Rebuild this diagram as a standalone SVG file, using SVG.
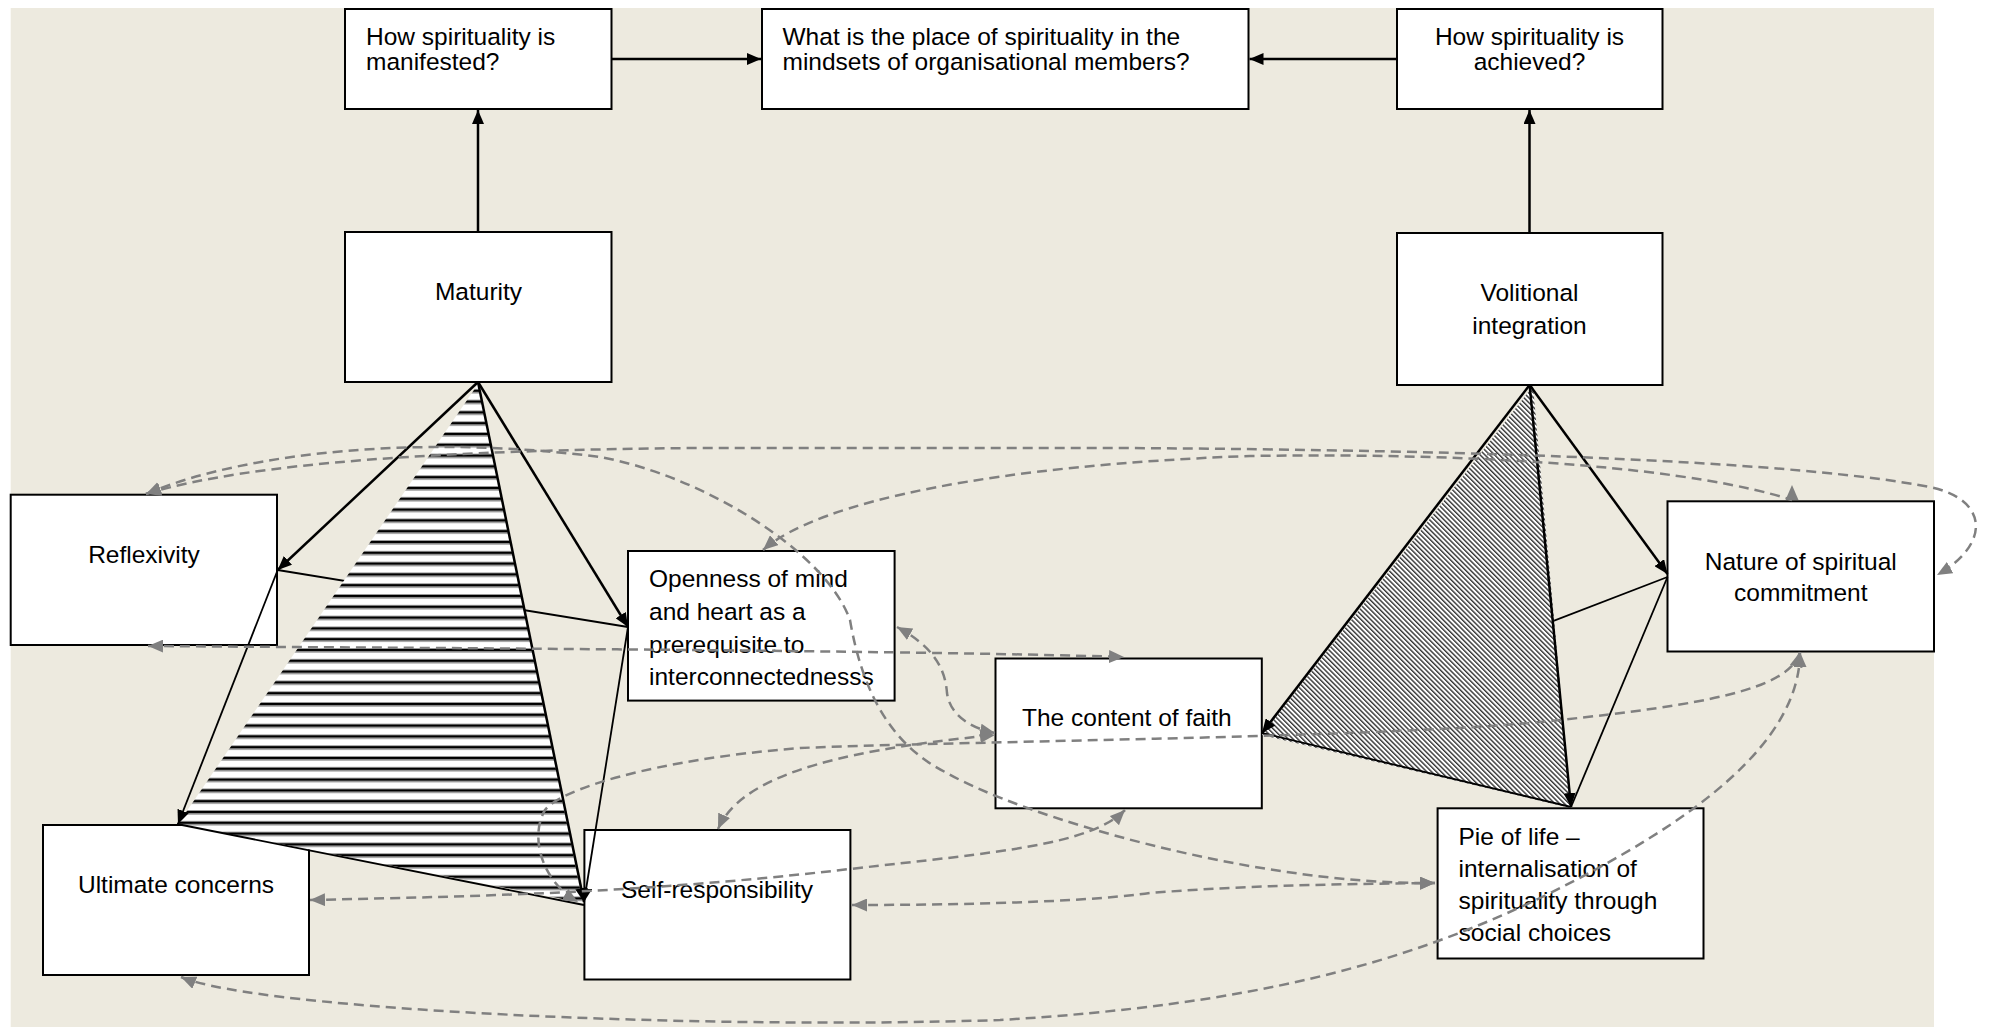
<svg xmlns="http://www.w3.org/2000/svg" width="1993" height="1027" viewBox="0 0 1993 1027">
  <style>
    .box { fill: #ffffff; stroke: #000000; stroke-width: 2; }
    .lbl { font-family: "Liberation Sans", Arial, sans-serif; font-size: 24.5px; fill: #000000; }
    .mid { text-anchor: middle; }
    .main { fill: none; stroke: #000000; stroke-width: 2.5; }
    .thin { fill: none; stroke: #000000; stroke-width: 1.8; }
    .dash { fill: none; stroke: #808080; stroke-width: 2.5; stroke-dasharray: 10 6; }
  </style>
  <defs>
    <marker id="ab" viewBox="0 0 14 12" refX="14" refY="6" markerWidth="14" markerHeight="12" markerUnits="userSpaceOnUse" orient="auto">
      <path d="M0,0 L14,6 L0,12 Z" fill="#000000"/>
    </marker>
    <marker id="ag" viewBox="0 0 15 13" refX="15" refY="6.5" markerWidth="15" markerHeight="13" markerUnits="userSpaceOnUse" orient="auto-start-reverse">
      <path d="M0,0 L15,6.5 L0,13 Z" fill="#808080"/>
    </marker>
    <marker id="agUp" viewBox="0 0 15 13" refX="0" refY="6.5" markerWidth="15" markerHeight="13" markerUnits="userSpaceOnUse" orient="-90">
      <path d="M0,0 L15,6.5 L0,13 Z" fill="#808080"/>
    </marker>
    <!-- horizontal rule fill for the Maturity fan -->
    <pattern id="hLines" patternUnits="userSpaceOnUse" width="20" height="10.8">
      <rect width="20" height="10.8" fill="#ffffff"/>
      <rect y="0.6" width="20" height="2.8" fill="#000000"/>
      <rect y="3.4" width="20" height="1.2" fill="#8a8a8a"/>
    </pattern>
    <!-- fine diagonal fill for the Volitional fan -->
    <pattern id="dLines" patternUnits="userSpaceOnUse" width="3.4" height="3.4" patternTransform="rotate(-45)">
      <rect width="3.4" height="3.4" fill="#ffffff"/>
      <rect width="1.4" height="3.4" fill="#333333"/>
    </pattern>
  </defs>

  <rect x="10.7" y="8" width="1923.3" height="1019" fill="#edeadf"/>

  <g id="node-manifested">
    <rect class="box" x="345" y="9" width="266.5" height="100"/>
    <text class="lbl" x="366" y="45">How spirituality is</text>
    <text class="lbl" x="366" y="70">manifested?</text>
  </g>
  <g id="node-place">
    <rect class="box" x="762" y="9" width="486.5" height="100"/>
    <text class="lbl" x="782.5" y="45">What is the place of spirituality in the</text>
    <text class="lbl" x="782.5" y="70">mindsets of organisational members?</text>
  </g>
  <g id="node-achieved">
    <rect class="box" x="1397" y="9" width="265.5" height="100"/>
    <text class="lbl mid" x="1529.5" y="45">How spirituality is</text>
    <text class="lbl mid" x="1529.5" y="70">achieved?</text>
  </g>
  <g id="node-maturity">
    <rect class="box" x="345" y="232" width="266.5" height="150"/>
    <text class="lbl mid" x="478.5" y="300">Maturity</text>
  </g>
  <g id="node-volitional">
    <rect class="box" x="1397" y="233" width="265.5" height="152"/>
    <text class="lbl mid" x="1529.5" y="300.5">Volitional</text>
    <text class="lbl mid" x="1529.5" y="333.5">integration</text>
  </g>
  <g id="node-reflexivity">
    <rect class="box" x="10.7" y="494.7" width="266.3" height="150.3"/>
    <text class="lbl mid" x="144" y="563">Reflexivity</text>
  </g>
  <g id="node-openness">
    <rect class="box" x="628" y="551" width="266.6" height="149.6"/>
    <text class="lbl" x="649" y="586.5">Openness of mind</text>
    <text class="lbl" x="649" y="619.5">and heart as a</text>
    <text class="lbl" x="649" y="652.5">prerequisite to</text>
    <text class="lbl" x="649" y="685">interconnectednesss</text>
  </g>
  <g id="node-content">
    <rect class="box" x="995.5" y="658.5" width="266.3" height="149.8"/>
    <text class="lbl" x="1022" y="726">The content of faith</text>
  </g>
  <g id="node-nature">
    <rect class="box" x="1667.5" y="501.3" width="266.5" height="150.2"/>
    <text class="lbl mid" x="1800.8" y="569.5">Nature of spiritual</text>
    <text class="lbl mid" x="1800.8" y="601">commitment</text>
  </g>
  <g id="node-ultimate">
    <rect class="box" x="43" y="825" width="266" height="150"/>
    <text class="lbl mid" x="176" y="893">Ultimate concerns</text>
  </g>
  <g id="node-selfresp">
    <rect class="box" x="584.4" y="830" width="266" height="149.5"/>
    <text class="lbl" x="621" y="897.5">Self-responsibility</text>
  </g>
  <g id="node-pie">
    <rect class="box" x="1437.6" y="808.3" width="265.9" height="150.2"/>
    <text class="lbl" x="1458.5" y="845">Pie of life –</text>
    <text class="lbl" x="1458.5" y="877">internalisation of</text>
    <text class="lbl" x="1458.5" y="909">spirituality through</text>
    <text class="lbl" x="1458.5" y="941">social choices</text>
  </g>

  <g id="connectors">
    <!-- links partly covered by the hatched fans -->
    <path class="thin" d="M277.7,570 L628,627"/>
    <path class="thin" d="M1667.5,577 L1262,733"/>

    <!-- hatched fans -->
    <polygon points="478,384 178,824 583,903" fill="url(#hLines)"/>
    <polygon points="1533,386 1262,735 1571,808" fill="url(#dLines)"/>

    <!-- solid links -->
    <path class="main" d="M478,232 L478,110" marker-end="url(#ab)"/>
    <path class="main" d="M611.5,59 L761,59" marker-end="url(#ab)"/>
    <path class="main" d="M1397,59 L1249.5,59" marker-end="url(#ab)"/>
    <path class="main" d="M1529.5,233 L1529.5,110" marker-end="url(#ab)"/>

    <path class="main" d="M478,382 L277.7,570" marker-end="url(#ab)"/>
    <path class="main" d="M478,382 L628,627" marker-end="url(#ab)"/>
    <path class="main" d="M478,382 L584,902" marker-end="url(#ab)"/>
    <path class="thin" d="M277.7,570 L178,824" marker-end="url(#ab)"/>
    <path class="thin" d="M628,627 L584,902" marker-end="url(#ab)"/>
    <path class="thin" d="M177,824 L584,905"/>

    <path class="main" d="M1529.6,385 L1262,733" marker-end="url(#ab)"/>
    <path class="main" d="M1529.6,385 L1667.5,574" marker-end="url(#ab)"/>
    <path class="main" d="M1529.6,385 L1571,807" marker-end="url(#ab)"/>
    <path class="thin" d="M1667.5,577 L1571,807"/>
    <path class="thin" d="M1262,733 L1571,807"/>

    <!-- dashed two-way links -->
    <path class="dash" d="M146,494 C250,462 450,450 700,448 L1120,448 C1500,450 1800,462 1930,487 C1990,500 1990,545 1937,575" marker-start="url(#ag)" marker-end="url(#ag)"/>
    <path class="dash" d="M146,494 C250,450 430,435 600,457 C700,475 825,550 850,620 C862,690 890,745 947,773 C1020,815 1250,885 1435,883" marker-start="url(#ag)" marker-end="url(#ag)"/>
    <path class="dash" d="M763,550 C820,500 1000,465 1250,456 C1500,452 1700,470 1792,500" marker-start="url(#ag)" marker-end="url(#agUp)"/>
    <path class="dash" d="M148,646 C400,648 900,650 1124,657" marker-start="url(#ag)" marker-end="url(#ag)"/>
    <path class="dash" d="M897,627 C930,645 945,665 947,693 C950,715 970,728 995,733" marker-start="url(#ag)" marker-end="url(#ag)"/>
    <path class="dash" d="M718,829 C740,780 820,752 995,735" marker-start="url(#ag)" marker-end="url(#ag)"/>
    <path class="dash" d="M310,900 C500,896 650,892 850,869 C1000,852 1090,845 1125,810" marker-start="url(#ag)" marker-end="url(#ag)"/>
    <path class="dash" d="M1800,652 C1790,690 1700,705 1560,720 C1400,738 1000,740 800,748 C650,760 560,790 545,810 C530,835 540,880 578,902" marker-start="url(#ag)" marker-end="url(#ag)"/>
    <path class="dash" d="M1800,652 C1800,740 1700,820 1540,898 C1400,965 1250,1005 1000,1020 C700,1030 260,1010 181,977" marker-start="url(#ag)" marker-end="url(#ag)"/>
    <path class="dash" d="M852,905 C1000,905 1100,900 1150,893 C1250,885 1350,884 1435,883" marker-start="url(#ag)" marker-end="url(#ag)"/>
  </g>
</svg>
